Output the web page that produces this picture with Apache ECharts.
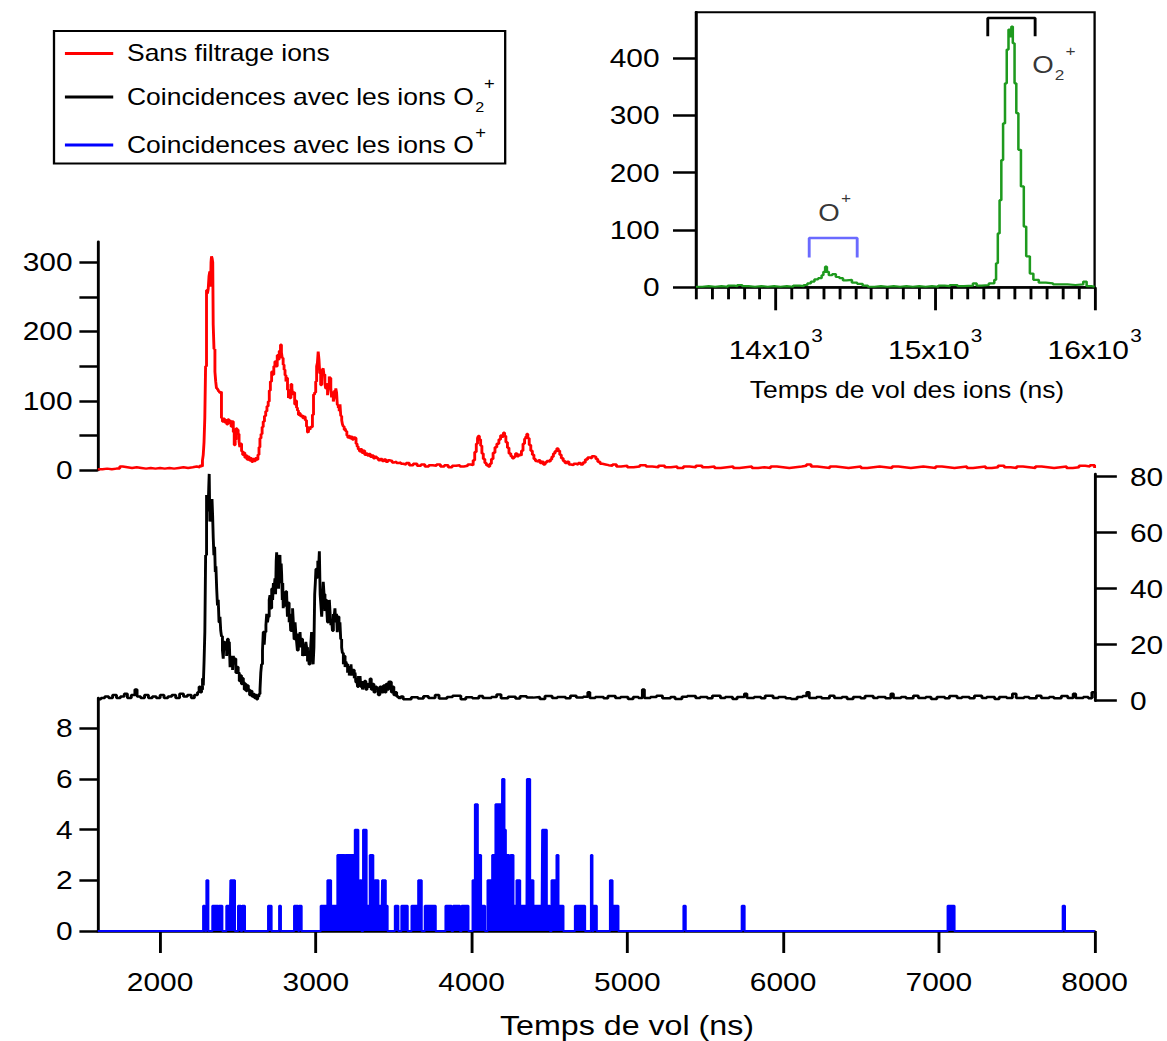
<!DOCTYPE html>
<html>
<head>
<meta charset="utf-8">
<script src="https://cdn.jsdelivr.net/npm/echarts@6.0.0/dist/echarts.min.js"></script>
<style>
  html, body { margin: 0; padding: 0; background: #fff; overflow: hidden; }
  /* the figure is laid out narrow and widened with a horizontal stretch */
  #chart { width: 1014.78px; height: 1041px; transform: scaleX(1.15); transform-origin: 0 0; }
</style>
</head>
<body>
<div id="chart"></div>
<script>
// ---------- data ----------
// Time of flight (ns) and counts, all ions (no filtering)
const redSpectrum = [
  [1600,1],[1630,2],[1660,1],[1690,2],[1720,2],[1741,5],[1760,4],[1790,3],[1820,4],[1850,3],[1880,2],[1910,3],[1940,2],[1970,3],
  [2000,2],[2030,3],[2060,2],[2090,3],[2120,4],[2150,3],[2180,4],[2210,5],[2235,4],[2255,6],[2266,5],[2272,14],[2277,22],[2282,40],
  [2287,75],[2292,150],[2298,260],[2304,255],[2309,262],[2314,280],[2319,287],[2324,265],[2327,300],[2330,309],[2334,306],[2338,300],
  [2341,210],[2346,175],[2352,142],[2357,128],[2362,118],[2368,116],[2374,114],[2380,112],[2387,113],[2394,75],[2400,70],[2407,74],
  [2414,69],[2421,72],[2428,66],[2435,73],[2442,68],[2449,71],[2456,63],[2463,70],[2470,55],[2476,36],[2482,44],[2488,60],[2494,58],
  [2501,52],[2507,41],[2512,33],[2517,38],[2523,27],[2530,22],[2537,25],[2544,18],[2551,21],[2558,15],[2565,19],[2572,14],[2580,17],
  [2588,12],[2596,16],[2604,13],[2612,17],[2620,15],[2628,22],[2635,33],[2641,46],[2648,52],[2655,62],[2662,70],[2670,78],[2678,85],
  [2686,92],[2694,99],[2701,115],[2708,128],[2716,142],[2723,138],[2730,150],[2737,157],[2744,150],[2752,166],[2758,160],[2765,172],
  [2773,181],[2779,170],[2784,162],[2790,152],[2796,145],[2802,137],[2808,128],[2812,133],[2818,116],[2824,104],[2829,110],[2833,104],
  [2840,124],[2846,118],[2851,110],[2858,112],[2864,95],[2870,100],[2876,90],[2882,86],[2888,80],[2894,82],[2900,78],[2908,79],
  [2916,75],[2924,77],[2932,72],[2940,63],[2946,55],[2951,54],[2956,60],[2962,58],[2967,63],[2972,62],[2978,80],[2985,109],[2992,112],
  [2999,128],[3005,150],[3010,155],[3015,171],[3020,160],[3025,140],[3031,123],[3037,128],[3042,145],[3047,147],[3052,138],[3058,125],
  [3063,118],[3069,124],[3075,108],[3080,122],[3086,135],[3090,133],[3096,118],[3101,105],[3106,112],[3112,99],[3117,104],[3122,115],
  [3128,118],[3133,112],[3138,94],[3144,90],[3150,85],[3155,95],[3160,78],[3166,72],[3171,66],[3176,63],[3182,58],[3188,60],[3193,56],
  [3199,50],[3205,47],[3212,49],[3219,46],[3226,48],[3234,44],[3242,47],[3251,46],[3258,38],[3265,34],[3272,30],[3280,27],[3288,30],
  [3296,25],[3305,28],[3314,22],[3322,24],[3331,21],[3340,23],[3350,19],[3360,21],[3370,17],[3380,19],[3390,17],[3402,14],[3414,16],
  [3426,13],[3438,15],[3450,12],[3463,14],[3476,13],[3490,11],[3504,12],[3518,10],[3532,11],[3546,9],[3561,8],[3580,10],[3600,7],
  [3625,9],[3650,6],[3675,8],[3700,5],[3725,7],[3750,6],[3775,8],[3800,5],[3825,7],[3850,4],[3875,6],[3900,7],[3925,5],[3950,6],
  [3975,8],[3995,7],[4010,14],[4020,26],[4030,38],[4038,46],[4043,49],[4050,44],[4058,35],[4066,24],[4075,16],[4085,10],[4095,7],
  [4107,5],[4117,9],[4127,16],[4138,25],[4150,33],[4162,38],[4175,44],[4186,50],[4196,48],[4204,54],[4212,49],[4220,40],[4230,32],
  [4240,24],[4252,20],[4262,17],[4272,19],[4282,24],[4292,20],[4302,22],[4311,21],[4320,28],[4330,38],[4340,45],[4347,48],[4354,52],
  [4361,46],[4370,36],[4380,28],[4390,22],[4400,16],[4410,13],[4419,12],[4430,14],[4440,10],[4450,12],[4461,8],[4472,11],[4483,13],
  [4494,12],[4505,15],[4515,19],[4525,24],[4535,27],[4547,31],[4556,28],[4566,22],[4576,17],[4588,13],[4600,10],[4612,12],[4625,8],
  [4640,7],[4655,9],[4670,8],[4685,10],[4700,8],[4715,11],[4730,15],[4745,18],[4760,17],[4772,20],[4785,19],[4798,16],[4810,12],
  [4825,9],[4840,8],[4860,7],[4880,6],[4905,8],[4930,5],[4960,6],[5000,4],[5040,5],[5080,7],[5120,5],[5160,4],[5200,6],[5240,4],
  [5280,5],[5320,3],[5360,5],[5400,4],[5440,6],[5480,4],[5520,5],[5560,3],[5600,4],[5640,5],[5680,3],[5720,4],[5760,5],[5800,3],
  [5840,4],[5880,3],[5920,5],[5960,4],[6000,3],[6040,4],[6080,5],[6120,6],[6150,8],[6180,5],[6220,4],[6260,3],[6300,5],[6340,4],
  [6380,3],[6420,4],[6460,5],[6500,3],[6540,4],[6580,5],[6620,4],[6660,3],[6700,5],[6740,4],[6780,3],[6820,4],[6860,5],[6900,4],
  [6940,3],[6980,5],[7020,4],[7060,3],[7100,4],[7140,5],[7180,3],[7220,4],[7260,5],[7300,3],[7340,4],[7380,6],[7420,4],[7460,3],
  [7500,5],[7540,4],[7580,3],[7620,5],[7660,4],[7700,3],[7740,4],[7780,5],[7820,3],[7860,4],[7900,6],[7940,5],[7970,7],[8000,3]
];

// Electrons in coincidence with O2+ ions
const blackSpectrum = [
  [1600,0.5],[1620,1],[1645,1.5],[1670,1],[1695,2],[1720,1],[1745,1.5],[1770,2.5],[1790,1],[1815,2],[1838,4],[1852,1.5],[1875,1],
  [1900,2],[1925,1],[1950,1.5],[1975,1],[2000,2],[2025,1],[2050,1.5],[2075,2],[2100,1],[2125,2.5],[2150,1.5],[2175,2],[2200,1],
  [2220,2],[2240,3],[2250,5],[2258,3],[2266,4],[2272,8],[2277,5.4],[2282,14],[2287,24.5],[2292,52],[2298,73.5],[2303,68],[2309,70],
  [2312,76],[2315,81],[2319,64],[2324,65],[2329,70],[2333,72],[2337,66],[2341,58],[2345,52],[2350,55],[2354,46],[2358,48],[2363,40],
  [2368,34],[2373,36],[2378,28],[2384,30],[2389,25],[2394,23],[2400,18],[2405,15],[2410,21],[2416,18],[2421,20],[2427,16],[2432,22],
  [2438,17],[2444,21],[2449,12],[2454,16],[2459,14],[2465,11],[2470,16],[2475,13],[2480,15],[2486,10],[2492,12],[2501,10],[2508,7],
  [2515,9],[2522,6],[2528,8],[2534,6.6],[2540,4],[2546,6],[2552,3.5],[2558,5.4],[2566,4],[2574,2],[2582,3.5],[2590,1.5],[2598,2.4],
  [2606,1],[2612,2],[2619,0.5],[2626,1.5],[2634,2.4],[2641,4],[2646,10],[2651,13],[2657,18],[2662,24.5],[2668,20],[2673,24.5],
  [2679,27],[2684,31],[2689,28],[2694,30],[2700,36],[2705,37.7],[2710,33],[2716,40],[2722,36],[2727,42],[2732,40],[2737,43.7],
  [2741,38],[2745,50],[2748,53],[2752,44],[2756,52],[2760,40],[2764,51],[2769,52],[2773,42],[2777,49],[2780,45],[2784,36],[2787,42],
  [2790,33],[2795,38],[2800,34],[2806,39],[2812,38],[2817,30],[2822,35],[2828,28],[2833,31],[2838,25],[2844,30],[2850,33],[2855,28],
  [2860,22],[2866,28],[2871,24],[2876,21],[2881,18],[2887,24],[2892,20],[2898,24.5],[2903,19],[2908,22],[2914,16],[2919,17],[2924,20],
  [2930,16],[2935,21],[2940,19],[2946,14],[2951,17],[2956,13],[2962,15],[2967,20],[2972,24.5],[2977,17],[2982,13],[2987,19],[2992,38],
  [2996,42],[3000,47],[3006,44],[3012,50],[3017,47],[3022,53.4],[3027,38],[3032,34],[3037,30],[3042,36],[3047,42.5],[3052,38],
  [3058,32],[3063,36],[3069,33],[3074,28],[3080,34],[3086,36],[3091,31],[3096,27],[3101,29],[3106,25],[3112,31],[3117,30],[3122,33],
  [3127,28],[3132,31],[3137,24.5],[3142,30],[3148,26],[3154,28],[3159,22],[3165,19],[3170,17],[3176,13],[3181,16],[3187,12],[3192,14],
  [3197,13],[3203,10],[3208,12],[3214,9],[3219,10],[3225,13],[3230,9],[3235,11],[3240,11],[3246,8],[3251,10],[3256,6.6],[3262,8],
  [3267,5],[3273,8.8],[3278,6],[3283,8.8],[3288,5],[3294,7],[3299,4],[3304,5.4],[3312,7],[3320,4],[3328,6],[3336,5],[3347,7.8],
  [3355,4],[3363,6],[3372,3],[3381,5],[3390,4.4],[3400,2],[3410,5],[3420,3],[3433,5.4],[3442,3],[3450,6],[3458,4],[3467,6.8],
  [3476,6.6],[3484,3],[3492,5],[3500,2],[3510,3],[3518,1.5],[3530,1],[3545,1.5],[3560,0.5],[3583,0.5],[3612,1.2],[3655,0.8],[3690,1.6],
  [3722,1],[3765,2],[3790,0.8],[3841,1.3],[3877,1.8],[3930,0.5],[3962,1.2],[4004,0.9],[4046,1.7],[4071,1],[4126,1.3],[4160,2.2],[4188,0.9],
  [4233,1.4],[4281,0.8],[4310,1.6],[4352,1.1],[4395,1.3],[4437,0.6],[4470,1.7],[4516,1],[4549,1.3],[4602,0.9],[4633,1.8],[4671,1.1],[4715,1.4],
  [4745,3],[4758,1],[4793,1.3],[4846,0.9],[4874,1.7],[4922,1],[4955,1.3],[5003,0.6],[5036,1.3],[5070,1],[5095,4],[5108,1],[5147,1.3],
  [5186,1.8],[5224,0.9],[5276,1.3],[5305,0.6],[5349,1.4],[5383,1.7],[5437,1],[5466,1.3],[5512,0.9],[5544,1.8],[5596,1],[5627,1.3],[5674,0.6],
  [5703,1.3],[5750,2.5],[5766,1],[5812,1.3],[5856,0.9],[5883,1.8],[5934,1],[5968,1.3],[6015,0.9],[6049,0.6],[6088,1.3],[6124,1.7],[6150,3],
  [6166,1],[6213,1.3],[6245,0.9],[6296,1.8],[6327,1],[6376,1.3],[6409,0.6],[6448,1.3],[6496,0.9],[6524,1.7],[6577,1],[6606,1.3],[6655,0.9],
  [6690,2.5],[6706,1],[6755,1.3],[6787,0.9],[6834,1.8],[6866,1],[6914,1.3],[6948,0.6],[6985,1.3],[7036,0.9],[7066,1.7],[7115,1],[7146,1.3],
  [7194,0.9],[7226,1.8],[7274,1],[7305,1.3],[7356,0.6],[7385,1.3],[7433,1],[7470,2.5],[7494,1],[7545,1.3],[7577,0.9],[7624,1.8],[7655,1],
  [7706,1.3],[7736,0.9],[7784,1.7],[7825,1],[7860,2.5],[7876,1],[7925,1.3],[7957,0.9],[7980,3],[8000,1]
];

// Electrons in coincidence with O+ ions: [start ns, end ns, counts]; zero elsewhere
const blueBins = [
  [2277,2287,1],[2298,2309,2],[2336,2373,1],[2377,2399,1],[2426,2448,1],[2452,2480,2],[2501,2518,1],[2527,2544,1],
  [2694,2715,1],[2765,2775,1],[2861,2887,1],[2893,2908,1],
  [3032,3075,1],[3075,3097,2],[3097,3139,1],[3139,3160,3],[3160,3163,1],[3163,3172,3],[3176,3185,3],[3185,3190,1],
  [3190,3200,3],[3200,3204,1],[3204,3215,3],[3215,3219,1],[3219,3232,3],[3232,3236,1],[3236,3251,3],[3251,3272,4],
  [3272,3283,1],[3283,3293,2],[3304,3325,4],[3325,3347,1],[3347,3368,3],[3368,3379,1],[3379,3401,2],[3401,3422,1],
  [3426,3448,2],[3448,3460,1],[3508,3529,1],[3550,3589,1],
  [3615,3658,1],[3658,3679,2],[3700,3769,1],[3833,3871,1],[3882,3925,1],[3936,3979,1],
  [4007,4022,2],[4022,4039,5],[4039,4060,3],[4060,4086,1],[4103,4133,2],[4133,4154,3],[4154,4193,5],[4197,4210,6],
  [4210,4219,4],[4219,4240,3],[4240,4250,1],[4250,4268,3],[4268,4289,1],[4289,4311,2],[4311,4353,1],[4356,4375,6],
  [4375,4396,2],[4396,4450,1],[4454,4482,4],[4482,4503,1],[4514,4546,2],[4546,4557,3],[4557,4589,1],
  [4664,4728,1],[4767,4775,3],[4782,4803,1],[4889,4904,2],[4904,4942,1],
  [5361,5374,1],[5735,5752,1],[7057,7100,1],[7796,7809,1]
];

// Ion time-of-flight spectrum (inset)
const ionSpectrum = [
  [13500,1],[13540,2],[13580,1],[13620,2],[13660,1],[13700,3],[13740,2],[13760,4],[13790,2],[13830,1],[13870,2],[13910,1],
  [13950,2],[13990,1],[14030,2],[14070,1],[14110,3],[14150,2],[14176,4],[14199,7],[14221,10],[14243,14],[14266,16],[14288,21],
  [14299,27],[14310,36],[14321,27],[14333,21],[14355,23],[14377,18],[14400,16],[14422,12],[14444,13],[14478,8],[14511,6],
  [14545,3],[14578,1],[14620,2],[14660,1],[14700,2],[14740,1],[14780,2],[14820,1],[14860,2],[14900,1],[14940,2],[14980,1],
  [15020,3],[15060,2],[15092,4],[15140,2],[15180,3],[15237,7],[15260,3],[15292,4],[15337,7],[15371,13],[15382,42],[15393,94],
  [15404,152],[15415,222],[15426,286],[15438,356],[15449,415],[15460,450],[15471,438],[15478,455],[15487,426],[15498,356],
  [15509,304],[15522,240],[15538,176],[15556,106],[15571,54],[15594,24],[15616,13],[15650,8],[15694,7],[15739,5],[15830,4],
  [15880,5],[15929,10],[15950,2],[15980,1],[16000,2]
];

// Ion selection windows: [start ns, end ns, top, foot]
const o1Window = [14210, 14511, 86, 52];
const o2Window = [15330, 15627, 470, 438];
const ionNames = [
  { text: '{m|O}{s|+}', t: 14370, v: 130 },
  { text: '{m|O}{b|2}{s|+}', t: 15745, v: 388 }
];

const mainTicks = [2000, 3000, 4000, 5000, 6000, 7000, 8000];
const redTicks = [0, 50, 100, 150, 200, 250, 300];
const redLabels = [0, 100, 200, 300];
const blackTicks = [0, 20, 40, 60, 80];
const blueTicks = [0, 2, 4, 6, 8];
const insetMajor = [14000, 15000, 16000];
const insetYTicks = [0, 100, 200, 300, 400];

const legendNames = ['Sans filtrage ions', 'Coincidences avec les ions O2+', 'Coincidences avec les ions O+'];
const legendText = {
  'Sans filtrage ions': '{m|Sans filtrage ions}',
  'Coincidences avec les ions O2+': '{m|Coincidences avec les ions O}{sub|2}{sup|+}',
  'Coincidences avec les ions O+': '{m|Coincidences avec les ions O}{sup2|+}'
};

// ---------- layout helpers ----------
const SX = 1.15;                 // horizontal stretch applied to the container
const hx = v => v / SX;          // page px -> chart px (horizontal)
const FONT = '"Liberation Sans", Arial, Helvetica, sans-serif';

const mainLeft = hx(97.8);
const mainRight = hx(1094.6);
const insetLeft = hx(696);

// minor ticks of the inset time axis, every 100 ns
const insetMinor = [];
for (let t = 13500; t < 16000; t += 100) if (t % 1000 !== 0) insetMinor.push(t);

// step outline for the sparse O+ histogram
function binsToSteps(bins, t0, t1) {
  const pts = [[t0, 0]];
  let prevEnd = null;
  bins.forEach(([a, b, c]) => {
    if (prevEnd !== null && a !== prevEnd) pts.push([prevEnd, 0]);
    pts.push([a, c]);
    prevEnd = b;
  });
  pts.push([prevEnd, 0]);
  pts.push([t1, 0]);
  return pts;
}
function bracket(w) {
  const [a, b, top, foot] = w;
  return [[a, foot], [a, top], [b, top], [b, foot]];
}

const axisLine = { show: true, lineStyle: { color: '#000', width: 2.5 } };
const labelBase = { color: '#000', fontFamily: FONT, fontSize: 26, formatter: v => String(v) };

const chart = echarts.init(document.getElementById('chart'), null, { renderer: 'svg' });

chart.setOption({
  animation: false,
  backgroundColor: '#fff',
  legend: {
    data: legendNames,
    orient: 'vertical',
    left: hx(54),
    top: 31,
    icon: 'rect',
    itemWidth: 42,
    itemHeight: 3,
    itemGap: 10,
    padding: [11, 9, 7, 9.5],
    borderColor: '#000',
    borderWidth: 2,
    selectedMode: false,
    formatter: n => legendText[n],
    textStyle: {
      color: '#000', fontFamily: FONT, fontSize: 23,
      rich: {
        m: { fontFamily: FONT, fontSize: 23, color: '#000', lineHeight: 44, padding: [0, 0, 0, 7], verticalAlign: 'middle' },
        sub: { fontFamily: FONT, fontSize: 14, color: '#000', padding: [20, 0, 0, 1], verticalAlign: 'middle' },
        sup: { fontFamily: FONT, fontSize: 16, color: '#000', padding: [0, 0, 28, 0], verticalAlign: 'middle' },
        sup2: { fontFamily: FONT, fontSize: 16, color: '#000', padding: [0, 0, 26, 1], verticalAlign: 'middle' }
      }
    }
  },
  grid: [
    { left: mainLeft, top: 241.7, width: mainRight - mainLeft, height: 470 - 241.7 },
    { left: mainLeft, top: 473.9, width: hx(1095) - mainLeft, height: 700.7 - 473.9 },
    { left: mainLeft, top: 698, width: mainRight - mainLeft, height: 931 - 698 },
    { left: insetLeft, top: 12.3, width: mainRight - insetLeft, height: 287.3 - 12.3,
      show: true, borderColor: '#000', borderWidth: 2, backgroundColor: 'transparent' },
    { left: insetLeft, top: 12.3, width: mainRight - insetLeft, height: 287.3 - 12.3 }
  ],
  xAxis: [
    { type: 'value', gridIndex: 0, min: 1600, max: 8000, show: false },
    { type: 'value', gridIndex: 1, min: 1600, max: 8000, show: false },
    { type: 'value', gridIndex: 2, min: 1600, max: 8000,
      axisLine: axisLine, splitLine: { show: false },
      axisTick: { show: true, customValues: mainTicks, length: 22, lineStyle: { color: '#000', width: 2.5 } },
      axisLabel: Object.assign({ customValues: mainTicks, margin: 38.5 }, labelBase) },
    { type: 'value', gridIndex: 3, min: 13500, max: 16000,
      axisLine: axisLine, splitLine: { show: false },
      axisTick: { show: true, customValues: insetMajor, length: 23, lineStyle: { color: '#000', width: 2.5 } },
      axisLabel: {
        customValues: insetMajor, margin: 38, color: '#000', fontFamily: FONT, fontSize: 26,
        formatter: v => '{m|' + (v / 1000) + 'x10}{s|3}',
        rich: {
          m: { fontFamily: FONT, fontSize: 26, color: '#000', lineHeight: 50, verticalAlign: 'middle' },
          s: { fontFamily: FONT, fontSize: 18, color: '#000', padding: [0, 0, 30, 1], verticalAlign: 'middle' }
        }
      } },
    { type: 'value', gridIndex: 4, min: 13500, max: 16000,
      axisLine: { show: false }, splitLine: { show: false }, axisLabel: { show: false },
      axisTick: { show: true, customValues: insetMinor, length: 12, lineStyle: { color: '#000', width: 2.5 } } }
  ],
  yAxis: [
    { type: 'value', gridIndex: 0, position: 'left', min: 0, max: 330,
      axisLine: axisLine, splitLine: { show: false },
      axisTick: { show: true, customValues: redTicks, length: 16, lineStyle: { color: '#000', width: 2.5 } },
      axisLabel: Object.assign({ customValues: redLabels, margin: 22 }, labelBase) },
    { type: 'value', gridIndex: 1, position: 'right', min: 0, max: 81,
      axisLine: axisLine, splitLine: { show: false },
      axisTick: { show: true, customValues: blackTicks, length: 19, lineStyle: { color: '#000', width: 2.5 } },
      axisLabel: Object.assign({ customValues: blackTicks, margin: 30.4 }, labelBase) },
    { type: 'value', gridIndex: 2, position: 'left', min: 0, max: 9.2,
      axisLine: axisLine, splitLine: { show: false },
      axisTick: { show: true, customValues: blueTicks, length: 16, lineStyle: { color: '#000', width: 2.5 } },
      axisLabel: Object.assign({ customValues: blueTicks, margin: 22 }, labelBase) },
    { type: 'value', gridIndex: 3, position: 'left', min: 0, max: 480,
      axisLine: axisLine, splitLine: { show: false },
      axisTick: { show: true, customValues: insetYTicks, length: 20, lineStyle: { color: '#000', width: 2.5 } },
      axisLabel: Object.assign({ customValues: insetYTicks, margin: 31.7 }, labelBase) },
    { type: 'value', gridIndex: 4, min: 0, max: 480, show: false }
  ],
  series: [
    { name: 'Sans filtrage ions', type: 'line', xAxisIndex: 0, yAxisIndex: 0, step: 'end',
      data: redSpectrum, symbol: 'none', color: '#ff0000', lineStyle: { width: 2.5, color: '#ff0000' } },
    { name: 'Coincidences avec les ions O2+', type: 'line', xAxisIndex: 1, yAxisIndex: 1, step: 'end',
      data: blackSpectrum, symbol: 'none', color: '#000', lineStyle: { width: 2.5, color: '#000' } },
    { name: 'Coincidences avec les ions O+', type: 'line', xAxisIndex: 2, yAxisIndex: 2, step: 'end',
      data: binsToSteps(blueBins, 1600, 8000), symbol: 'none', color: '#0000ff',
      lineStyle: { width: 2, color: '#0000ff' }, areaStyle: { color: '#0000ff', opacity: 1 } },
    { name: 'ions', type: 'line', xAxisIndex: 3, yAxisIndex: 3, step: 'end',
      data: ionSpectrum, symbol: 'none', color: '#1e9a1e', lineStyle: { width: 2.2, color: '#1e9a1e' } },
    { name: 'fenetre O+', type: 'line', xAxisIndex: 3, yAxisIndex: 3, data: bracket(o1Window),
      symbol: 'none', lineStyle: { width: 2.5, color: '#6a6aff' } },
    { name: 'fenetre O2+', type: 'line', xAxisIndex: 3, yAxisIndex: 3, data: bracket(o2Window),
      symbol: 'none', lineStyle: { width: 2.5, color: '#000' } },
    { name: 'noms', type: 'scatter', xAxisIndex: 3, yAxisIndex: 3, symbolSize: 0,
      data: ionNames.map(d => ({ value: [d.t, d.v], label: { formatter: d.text } })),
      label: {
        show: true, position: 'inside', color: '#000', fontFamily: FONT, fontSize: 24,
        rich: {
          m: { fontFamily: FONT, fontSize: 24, color: '#000', lineHeight: 30, verticalAlign: 'middle' },
          b: { fontFamily: FONT, fontSize: 15, color: '#000', padding: [18, 0, 0, 1], verticalAlign: 'middle' },
          s: { fontFamily: FONT, fontSize: 15, color: '#000', padding: [0, 0, 30, 1], verticalAlign: 'middle' }
        }
      } }
  ],
  graphic: [
    { type: 'text', x: hx(627), y: 1025, silent: true,
      style: { text: 'Temps de vol (ns)', fontFamily: FONT, fontSize: 28, fill: '#000',
               align: 'center', verticalAlign: 'middle', textAlign: 'center', textVerticalAlign: 'middle' } },
    { type: 'text', x: hx(907), y: 390, silent: true,
      style: { text: 'Temps de vol des ions (ns)', fontFamily: FONT, fontSize: 23, fill: '#000',
               align: 'center', verticalAlign: 'middle', textAlign: 'center', textVerticalAlign: 'middle' } }
  ]
});
</script>
</body>
</html>
